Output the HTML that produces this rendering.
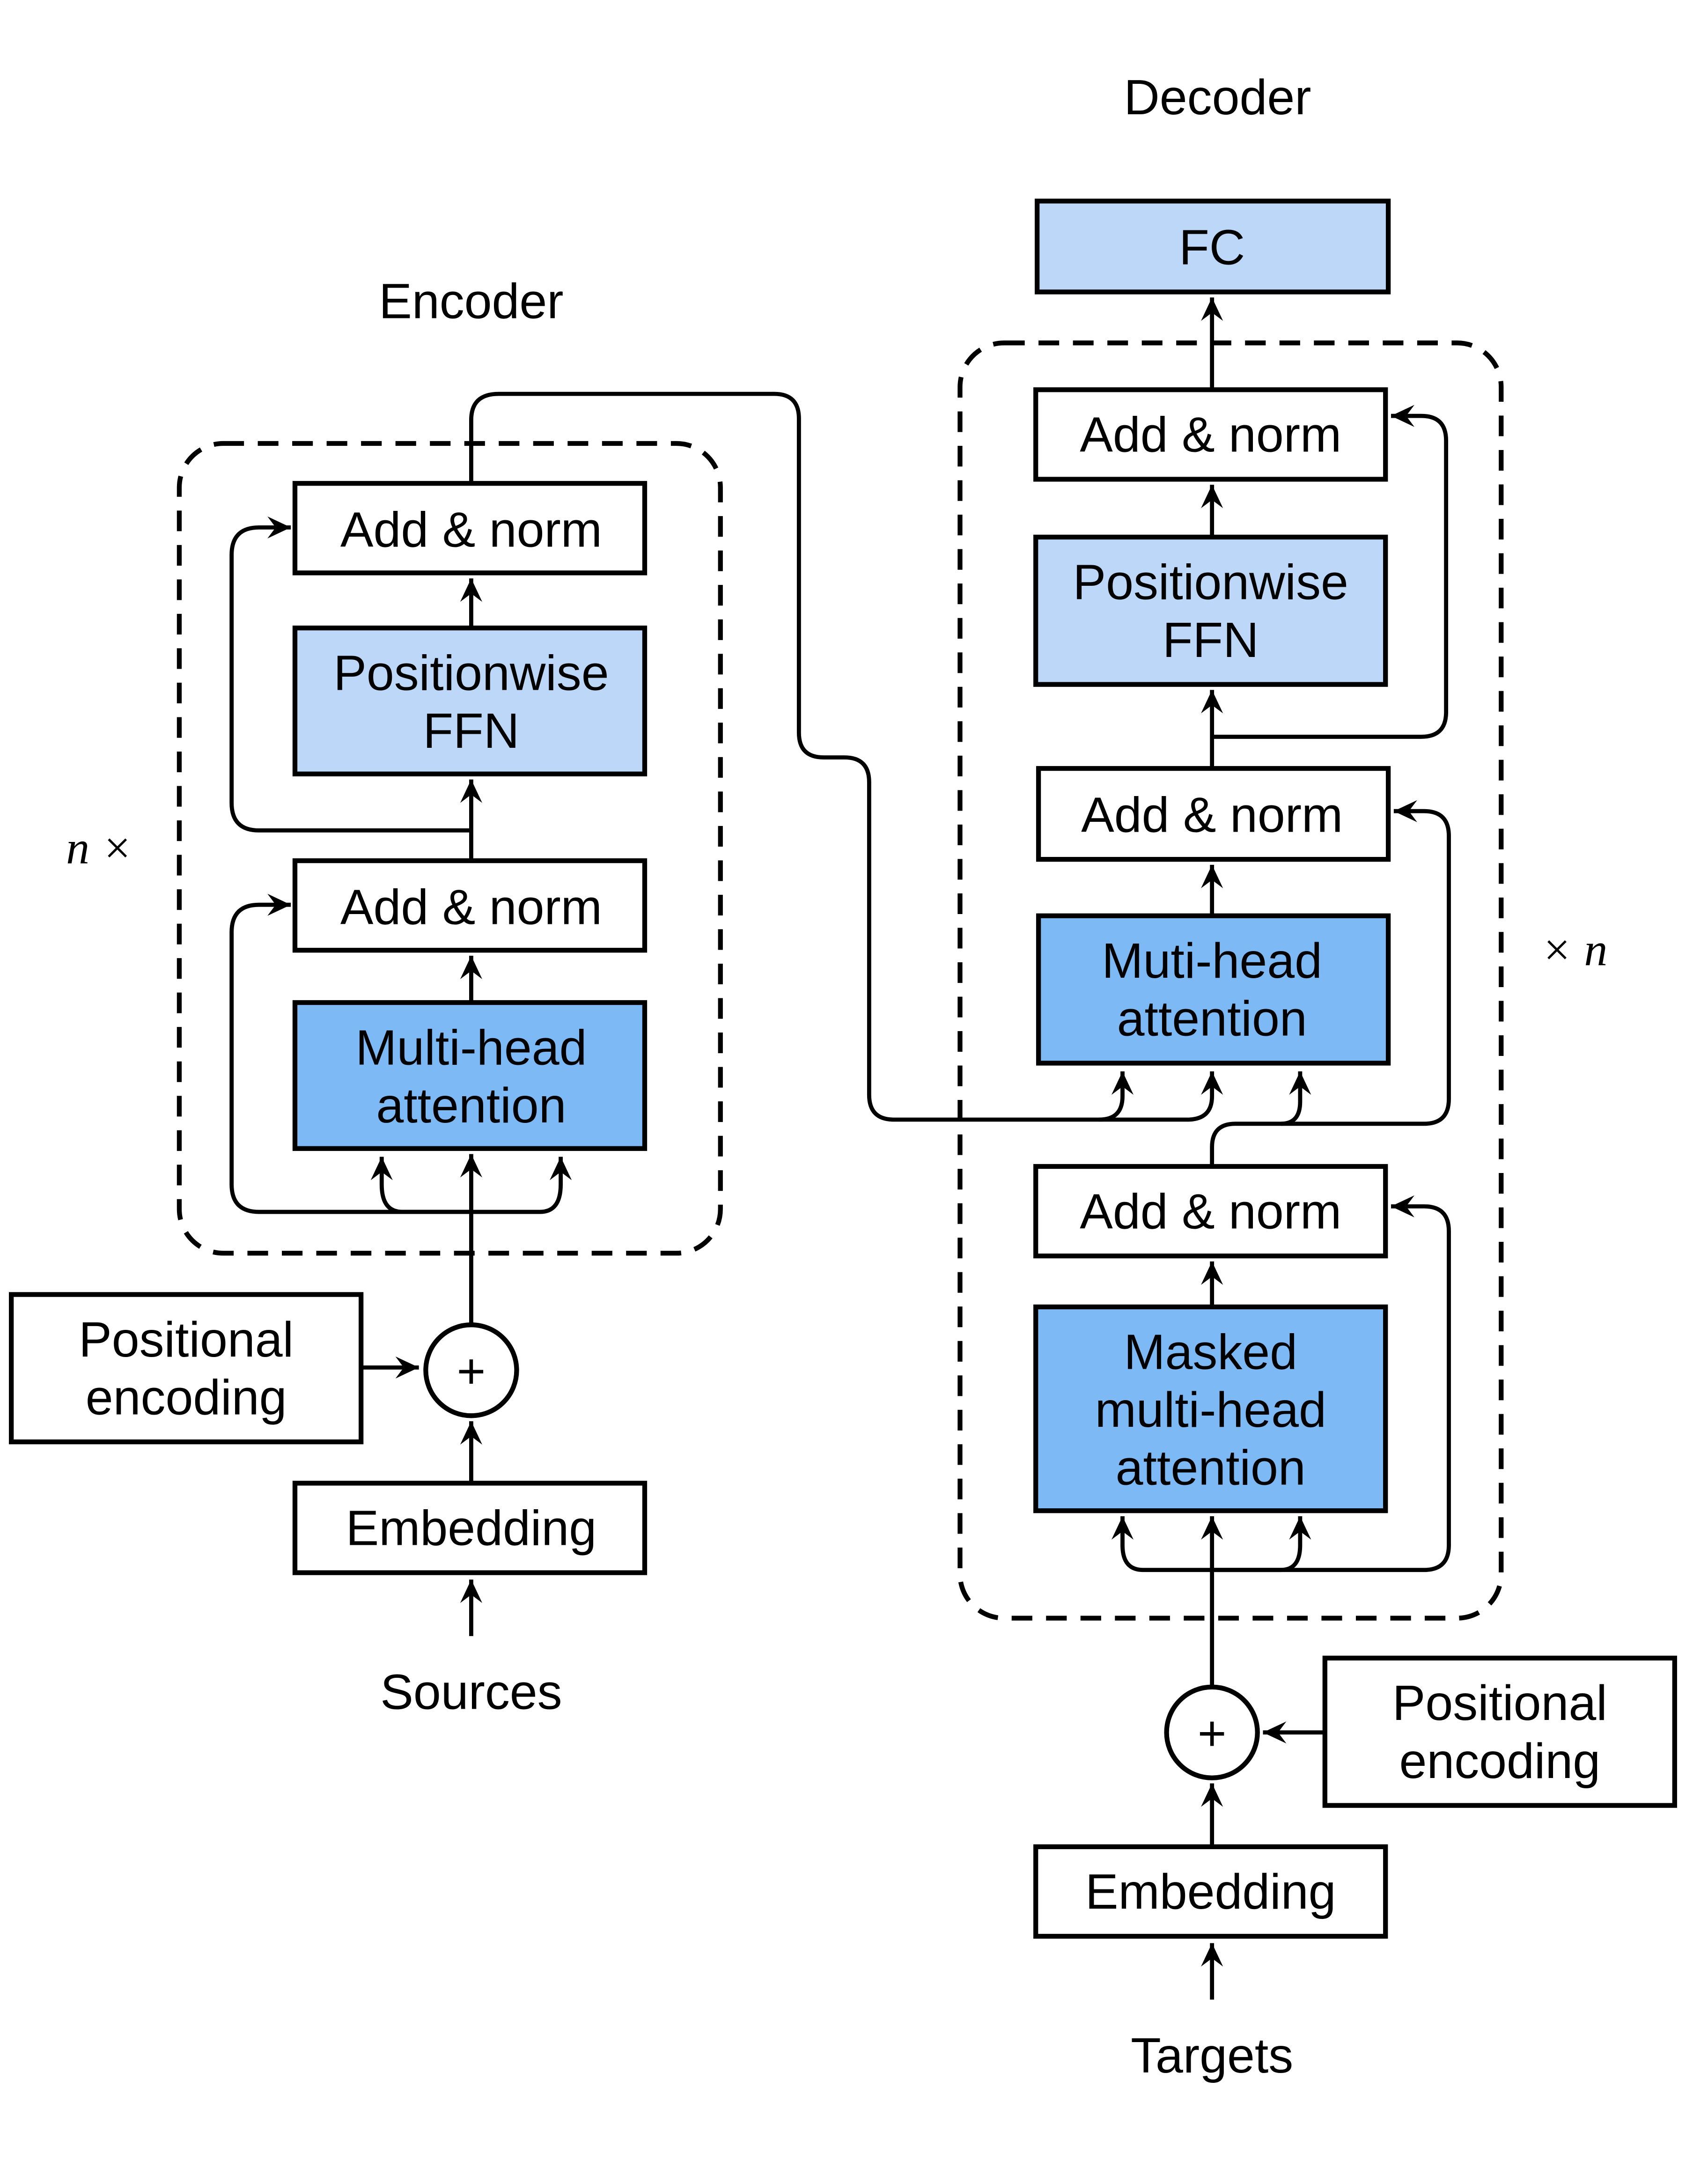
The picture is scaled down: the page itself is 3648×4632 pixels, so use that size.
<!DOCTYPE html>
<html><head><meta charset="utf-8"><style>
html,body{margin:0;padding:0;background:#fff}
svg{display:block}
text{font-family:"Liberation Sans",sans-serif;font-size:36px;fill:#000;text-anchor:middle}
.b{stroke:#000;stroke-width:3.5;}
.l{fill:none;stroke:#000;stroke-width:3;}
</style></head><body>
<svg width="3648" height="4632" viewBox="0 0 1240 1575" xmlns="http://www.w3.org/2000/svg">
<defs>
<marker id="a" viewBox="-18 -9 20 18" refX="0" refY="0" markerWidth="20" markerHeight="18" markerUnits="userSpaceOnUse" orient="auto">
<path d="M0,0 L-17,-8 L-11,0 L-17,8 Z" fill="#000"/>
</marker>
</defs>
<rect width="1240" height="1575" fill="#fff"/>
<rect x="130" y="322" width="393" height="588" rx="32" fill="none" stroke="#000" stroke-width="3.5" stroke-dasharray="15,10"/>
<rect x="697" y="249" width="393" height="926" rx="32" fill="none" stroke="#000" stroke-width="3.5" stroke-dasharray="15,10"/>

<text x="342" y="231">Encoder</text>
<text x="884" y="83">Decoder</text>
<text x="72" y="627" style="font-family:'Liberation Serif',serif;font-style:italic;font-size:34px">n ×</text>
<text x="1143" y="701" style="font-family:'Liberation Serif',serif;font-style:italic;font-size:34px">× n</text>

<rect class="b" x="214" y="351" width="254" height="65" fill="#fff"/>
<text x="342" y="397">Add &amp; norm</text>
<rect class="b" x="214" y="456" width="254" height="106" fill="#bcd7f7"/>
<text x="342" y="501">Positionwise</text><text x="342" y="543">FFN</text>
<rect class="b" x="214" y="625" width="254" height="65" fill="#fff"/>
<text x="342" y="671">Add &amp; norm</text>
<rect class="b" x="214" y="728" width="254" height="106" fill="#7db9f5"/>
<text x="342" y="773">Multi-head</text><text x="342" y="815">attention</text>
<circle class="b" cx="342" cy="995" r="33" fill="#fff"/>
<text x="342" y="1008" style="font-size:36px">+</text>
<rect class="b" x="8" y="940" width="254" height="107" fill="#fff"/>
<text x="135" y="985">Positional</text><text x="135" y="1027">encoding</text>
<rect class="b" x="214" y="1077" width="254" height="65" fill="#fff"/>
<text x="342" y="1122">Embedding</text>
<text x="342" y="1241">Sources</text>

<path class="l" d="M342,1188 V1147" marker-end="url(#a)"/>
<path class="l" d="M342,1077 V1032" marker-end="url(#a)"/>
<path class="l" d="M262,993 H304" marker-end="url(#a)"/>
<path class="l" d="M342,962 V838" marker-end="url(#a)"/>
<path class="l" d="M342,880 H188 Q168,880 168,860 V677 Q168,657 188,657 H211" marker-end="url(#a)"/>
<path class="l" d="M342,880 H292 Q277,880 277,860 V840" marker-end="url(#a)"/>
<path class="l" d="M342,880 H392 Q407,880 407,860 V840" marker-end="url(#a)"/>
<path class="l" d="M342,728 V694" marker-end="url(#a)"/>
<path class="l" d="M342,625 V566" marker-end="url(#a)"/>
<path class="l" d="M342,603 H188 Q168,603 168,583 V403 Q168,383 188,383 H211" marker-end="url(#a)"/>
<path class="l" d="M342,456 V420" marker-end="url(#a)"/>
<path class="l" d="M342,351 V305 Q342,286 362,286 H562 Q580,286 580,304 V532 Q580,550 598,550 H613 Q631,550 631,568 V795 Q631,813 649,813 H798 Q815,813 815,796 V778" marker-end="url(#a)"/>
<path class="l" d="M798,813 H862 Q880,813 880,796 V778" marker-end="url(#a)"/>

<rect class="b" x="753" y="146" width="255" height="66" fill="#bcd7f7"/>
<text x="880" y="192">FC</text>
<rect class="b" x="752" y="283" width="254" height="65" fill="#fff"/>
<text x="879" y="328">Add &amp; norm</text>
<rect class="b" x="752" y="390" width="254" height="107" fill="#bcd7f7"/>
<text x="879" y="435">Positionwise</text><text x="879" y="477">FFN</text>
<rect class="b" x="754" y="558" width="254" height="66" fill="#fff"/>
<text x="880" y="604">Add &amp; norm</text>
<rect class="b" x="754" y="665" width="254" height="107" fill="#7db9f5"/>
<text x="880" y="710">Muti-head</text><text x="880" y="752">attention</text>
<rect class="b" x="752" y="847" width="254" height="65" fill="#fff"/>
<text x="879" y="892">Add &amp; norm</text>
<rect class="b" x="752" y="949" width="254" height="148" fill="#7db9f5"/>
<text x="879" y="994">Masked</text><text x="879" y="1036">multi-head</text><text x="879" y="1078">attention</text>
<circle class="b" cx="880" cy="1258" r="33" fill="#fff"/>
<text x="880" y="1271" style="font-size:36px">+</text>
<rect class="b" x="962" y="1204" width="254" height="107" fill="#fff"/>
<text x="1089" y="1249">Positional</text><text x="1089" y="1291">encoding</text>
<rect class="b" x="752" y="1341" width="254" height="65" fill="#fff"/>
<text x="879" y="1386">Embedding</text>
<text x="880" y="1505">Targets</text>

<path class="l" d="M880,1452 V1411" marker-end="url(#a)"/>
<path class="l" d="M880,1341 V1295" marker-end="url(#a)"/>
<path class="l" d="M962,1258 H917" marker-end="url(#a)"/>
<path class="l" d="M880,1225 V1101" marker-end="url(#a)"/>
<path class="l" d="M880,1140 H830 Q815,1140 815,1122 V1101" marker-end="url(#a)"/>
<path class="l" d="M880,1140 H930 Q944,1140 944,1122 V1101" marker-end="url(#a)"/>
<path class="l" d="M880,1140 H1034 Q1052,1140 1052,1122 V894 Q1052,876 1034,876 H1010" marker-end="url(#a)"/>
<path class="l" d="M880,949 V916" marker-end="url(#a)"/>
<path class="l" d="M880,847 V833 Q880,816 897,816 H1034 Q1052,816 1052,798 V607 Q1052,589 1034,589 H1012" marker-end="url(#a)"/>
<path class="l" d="M930,816 Q944,816 944,800 V778" marker-end="url(#a)"/>
<path class="l" d="M880,665 V628" marker-end="url(#a)"/>
<path class="l" d="M880,558 V501" marker-end="url(#a)"/>
<path class="l" d="M880,535 H1032 Q1050,535 1050,517 V320 Q1050,302 1032,302 H1010" marker-end="url(#a)"/>
<path class="l" d="M880,390 V352" marker-end="url(#a)"/>
<path class="l" d="M880,283 V216" marker-end="url(#a)"/>
</svg>
</body></html>
